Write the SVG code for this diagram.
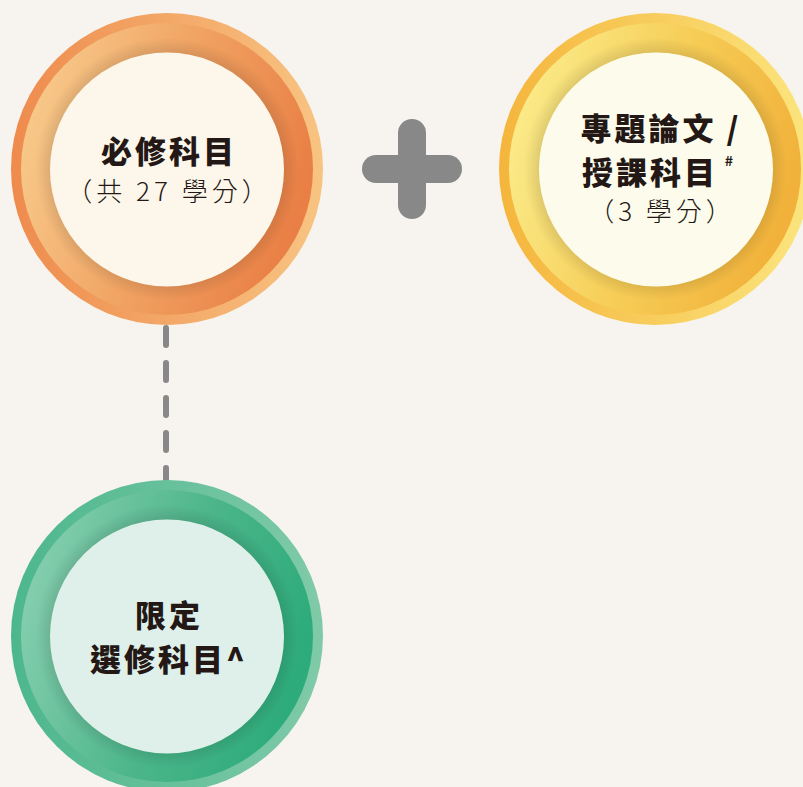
<svg xmlns="http://www.w3.org/2000/svg" width="803" height="787" viewBox="0 0 803 787">
<defs>
<style>
.t{font-family:"Noto Sans CJK TC","Noto Sans CJK SC",sans-serif;fill:#231815;text-anchor:middle}
.b{font-weight:900;font-size:31px;letter-spacing:3px}
.s{font-weight:300;font-size:26px;letter-spacing:4px}
.conn{stroke:#888888;fill:none;stroke-linecap:round}
</style>
<linearGradient id="oO" x1="0" y1="0" x2="1" y2="0"><stop offset="0" stop-color="#ee8b4d"/><stop offset="1" stop-color="#f8c482"/></linearGradient>
<linearGradient id="oI" x1="0" y1="0.2" x2="1" y2="0.5"><stop offset="0" stop-color="#f8cd8e"/><stop offset="0.55" stop-color="#f0a060"/><stop offset="1" stop-color="#e97f45"/></linearGradient>
<linearGradient id="yO" x1="0" y1="0" x2="1" y2="0"><stop offset="0" stop-color="#f5b53c"/><stop offset="1" stop-color="#fbe57e"/></linearGradient>
<linearGradient id="yI" x1="0" y1="0.2" x2="1" y2="0.5"><stop offset="0" stop-color="#fbee8e"/><stop offset="0.55" stop-color="#f6cc55"/><stop offset="1" stop-color="#f1b13a"/></linearGradient>
<linearGradient id="gO" x1="0" y1="0" x2="1" y2="0"><stop offset="0" stop-color="#4db78c"/><stop offset="1" stop-color="#80caa8"/></linearGradient>
<linearGradient id="gI" x1="0" y1="0.2" x2="1" y2="0.5"><stop offset="0" stop-color="#8ad0b1"/><stop offset="0.55" stop-color="#4db68a"/><stop offset="1" stop-color="#2dab7a"/></linearGradient>
<radialGradient id="sh" cx="0.5" cy="0.5" r="0.5"><stop offset="0.78" stop-color="#000" stop-opacity="0.12"/><stop offset="0.9" stop-color="#000" stop-opacity="0"/></radialGradient>
</defs>
<rect width="803" height="787" fill="#f7f4ef"/>
<g id="connectors">
<line class="conn" x1="166" y1="328" x2="166" y2="480" stroke-width="6" stroke-dasharray="17 18"/>
</g>
<g id="plus">
<line class="conn" x1="412" y1="133" x2="412" y2="205" stroke-width="28"/>
<line class="conn" x1="376" y1="169" x2="448" y2="169" stroke-width="28"/>
</g>
<g id="node-required">
<circle cx="167" cy="169" r="156" fill="url(#oO)"/>
<circle cx="167" cy="169" r="146" fill="url(#oI)"/>
<circle cx="167" cy="169" r="146" fill="url(#sh)"/>
<circle cx="167" cy="169.5" r="117" fill="#fdf6ea"/>
<text class="t b" x="169" y="163">必修科目</text>
<text class="t s" x="169" y="201">（共 27 學分）</text>
</g>
<g id="node-thesis">
<circle cx="655" cy="169" r="156" fill="url(#yO)"/>
<circle cx="655" cy="169" r="146" fill="url(#yI)"/>
<circle cx="655" cy="169" r="146" fill="url(#sh)"/>
<circle cx="656" cy="169.5" r="117" fill="#fdfcec"/>
<text class="t b" x="661" y="140">專題論文 /</text>
<text class="t b" x="650" y="184">授課科目</text>
<text class="t" x="729" y="166" style="font-size:14px;font-weight:700">#</text>
<text class="t s" x="662" y="221">（3 學分）</text>
</g>
<g id="node-elective">
<circle cx="167" cy="636" r="156" fill="url(#gO)"/>
<circle cx="167" cy="636" r="146" fill="url(#gI)"/>
<circle cx="167" cy="636" r="146" fill="url(#sh)"/>
<circle cx="167" cy="636.5" r="117" fill="#dff0eb"/>
<text class="t b" x="169" y="627">限定</text>
<text class="t b" x="169" y="671">選修科目^</text>
</g>
</svg>
